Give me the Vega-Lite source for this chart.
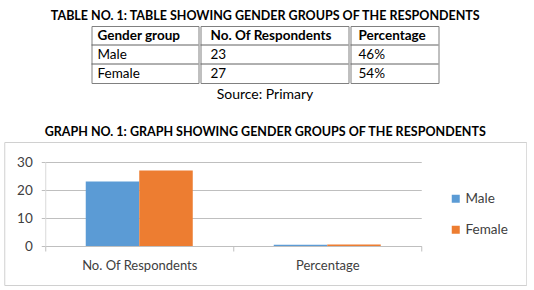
{
  "$schema": "https://vega.github.io/schema/vega-lite/v6.json",
  "background": "white",
  "padding": {"left": 3, "top": 10, "right": 0, "bottom": 0},
  "config": {"font": "Lato", "view": {"stroke": "#808080"}},
  "datasets": {
    "table": [
      {"r": 0, "a": "Gender group", "b": "No. Of Respondents", "c": "Percentage"},
      {"r": 1, "a": "Male", "b": "23", "c": "46%"},
      {"r": 2, "a": "Female", "b": "27", "c": "54%"}
    ],
    "bars": [
      {"metric": "No. Of Respondents", "gender": "Male", "value": 23},
      {"metric": "No. Of Respondents", "gender": "Female", "value": 27},
      {"metric": "Percentage", "gender": "Male", "value": 0.46},
      {"metric": "Percentage", "gender": "Female", "value": 0.54}
    ]
  },
  "title": {"text": "TABLE NO. 1: TABLE SHOWING GENDER GROUPS OF THE RESPONDENTS", "anchor": "middle", "fontSize": 12.5, "fontWeight": "bold", "color": "black", "offset": 3},
  "vconcat": [
    {
      "title": {"text": "Source: Primary", "orient": "bottom", "anchor": "middle", "fontSize": 14, "fontWeight": "normal", "color": "black", "offset": 4},
      "spacing": 0,
      "hconcat": [
        {
          "width": 107, "height": 57,
          "data": {"name": "table"},
          "encoding": {
            "y": {"field": "r", "type": "ordinal", "scale": {"domain": [0, 1, 2], "paddingInner": 0, "paddingOuter": 0}, "axis": null}
          },
          "layer": [
            {"transform": [{"filter": "datum.r == 0"}],
             "mark": {"type": "text", "align": "left", "dx": 6, "fontSize": 13.5, "fontWeight": "bold", "color": "black"},
             "encoding": {
               "x": {"datum": 0, "type": "quantitative", "scale": {"domain": [0, 1]}, "axis": null},
               "text": {"field": "a"}}},
            {"transform": [{"filter": "datum.r != 0"}],
             "mark": {"type": "text", "align": "left", "dx": 6, "fontSize": 13.5, "color": "black"},
             "encoding": {
               "x": {"datum": 0, "type": "quantitative", "scale": {"domain": [0, 1]}, "axis": null},
               "text": {"field": "a"}}},
            {"transform": [{"filter": "datum.r != 0"}],
             "mark": {"type": "rule", "color": "#606060"},
             "encoding": {"y": {"field": "r", "type": "ordinal", "bandPosition": 0}}}
          ]
        },
        {
          "width": 148, "height": 57,
          "data": {"name": "table"},
          "encoding": {
            "y": {"field": "r", "type": "ordinal", "scale": {"domain": [0, 1, 2], "paddingInner": 0, "paddingOuter": 0}, "axis": null}
          },
          "layer": [
            {"transform": [{"filter": "datum.r == 0"}],
             "mark": {"type": "text", "align": "left", "dx": 10, "fontSize": 13.5, "fontWeight": "bold", "color": "black"},
             "encoding": {
               "x": {"datum": 0, "type": "quantitative", "scale": {"domain": [0, 1]}, "axis": null},
               "text": {"field": "b"}}},
            {"transform": [{"filter": "datum.r != 0"}],
             "mark": {"type": "text", "align": "left", "dx": 10, "fontSize": 13.5, "color": "black"},
             "encoding": {
               "x": {"datum": 0, "type": "quantitative", "scale": {"domain": [0, 1]}, "axis": null},
               "text": {"field": "b"}}},
            {"transform": [{"filter": "datum.r != 0"}],
             "mark": {"type": "rule", "color": "#606060"},
             "encoding": {"y": {"field": "r", "type": "ordinal", "bandPosition": 0}}}
          ]
        },
        {
          "width": 88, "height": 57,
          "data": {"name": "table"},
          "encoding": {
            "y": {"field": "r", "type": "ordinal", "scale": {"domain": [0, 1, 2], "paddingInner": 0, "paddingOuter": 0}, "axis": null}
          },
          "layer": [
            {"transform": [{"filter": "datum.r == 0"}],
             "mark": {"type": "text", "align": "left", "dx": 8, "fontSize": 13.5, "fontWeight": "bold", "color": "black"},
             "encoding": {
               "x": {"datum": 0, "type": "quantitative", "scale": {"domain": [0, 1]}, "axis": null},
               "text": {"field": "c"}}},
            {"transform": [{"filter": "datum.r != 0"}],
             "mark": {"type": "text", "align": "left", "dx": 8, "fontSize": 13.5, "color": "black"},
             "encoding": {
               "x": {"datum": 0, "type": "quantitative", "scale": {"domain": [0, 1]}, "axis": null},
               "text": {"field": "c"}}},
            {"transform": [{"filter": "datum.r != 0"}],
             "mark": {"type": "rule", "color": "#606060"},
             "encoding": {"y": {"field": "r", "type": "ordinal", "bandPosition": 0}}}
          ]
        }
      ]
    },
    {
      "width": 522, "height": 143,
      "title": {"text": "GRAPH NO. 1: GRAPH SHOWING GENDER GROUPS OF THE RESPONDENTS", "anchor": "middle", "fontSize": 12.5, "fontWeight": "bold", "color": "black", "offset": 4},
      "view": {"stroke": "#d0d0d0"},
      "data": {"name": "bars"},
      "mark": {"type": "bar"},
      "encoding": {
        "x": {"field": "metric", "type": "nominal", "sort": null,
              "scale": {"range": [41, 417], "paddingInner": 0, "paddingOuter": 0},
              "axis": {"title": null, "labelAngle": 0, "offset": -39, "domainColor": "#bfbfbf", "tickColor": "#bfbfbf", "tickBand": "extent", "tickSize": 5, "labelPadding": 8, "labelFontSize": 13, "labelColor": "#404040", "grid": false}},
        "xOffset": {"field": "gender", "type": "nominal", "sort": ["Male", "Female"], "scale": {"paddingOuter": 0.757, "paddingInner": 0}},
        "y": {"field": "value", "type": "quantitative",
              "scale": {"domain": [0, 30], "range": [104, 20], "nice": false},
              "axis": {"values": [0, 10, 20, 30], "title": null, "offset": -41, "grid": true, "gridColor": "#bfbfbf", "domainColor": "#d9d9d9", "tickColor": "#bfbfbf", "tickSize": 4, "labelPadding": 9, "labelFontSize": 13.5, "labelColor": "#404040"}},
        "color": {"field": "gender", "type": "nominal",
                  "scale": {"domain": ["Male", "Female"], "range": ["#5b9bd5", "#ed7d31"]},
                  "legend": {"title": null, "orient": "none", "legendX": 445, "legendY": 166, "symbolType": "square", "symbolSize": 64, "symbolStrokeWidth": 0, "labelFontSize": 13.5, "labelColor": "#404040", "labelOffset": 3, "rowPadding": 16, "padding": 0}}
      }
    }
  ],
  "spacing": 23,
  "center": true
}
